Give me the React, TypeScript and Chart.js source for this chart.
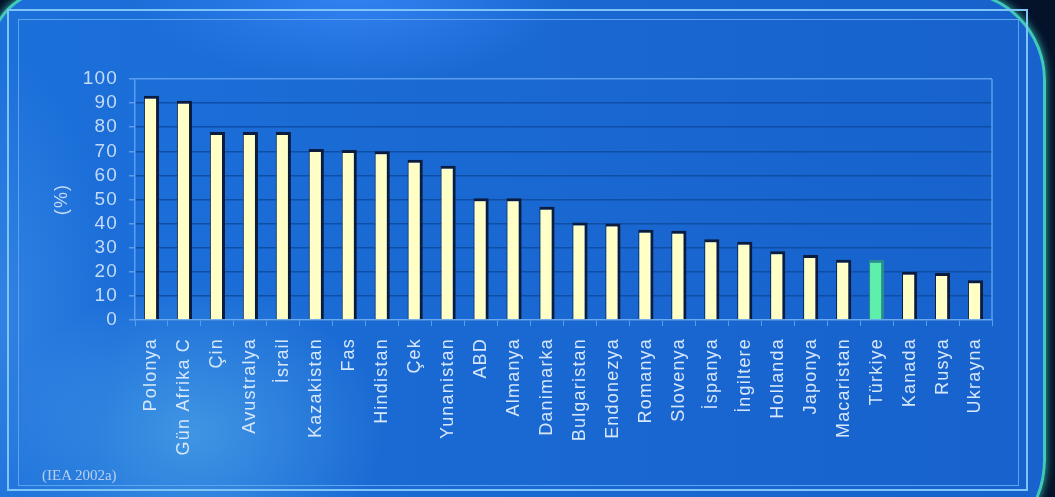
import React, { useEffect, useRef } from "react";
import { Chart, registerables } from "chart.js";

Chart.register(...registerables);

const categories = [
  "Polonya", "Gün Afrika C", "Çin", "Avustralya", "İsrail", "Kazakistan", "Fas",
  "Hindistan", "Çek", "Yunanistan", "ABD", "Almanya", "Danimarka", "Bulgaristan",
  "Endonezya", "Romanya", "Slovenya", "İspanya", "İngiltere", "Hollanda", "Japonya",
  "Macaristan", "Türkiye", "Kanada", "Rusya", "Ukrayna",
];

const shares = [
  93, 91, 78, 78, 78, 71, 70.5, 70, 66.5, 64, 50.5, 50.5, 47, 40.5, 40, 37.5, 37,
  33.5, 32.5, 28.5, 27, 25, 25, 20, 19.5, 16.5,
];

const highlighted = "Türkiye";
const yTitle = "(%)";
const sourceNote = "(IEA 2002a)";

const LIGHT = "#5a9ef0";

const framePlugin = {
  id: "frameLines",
  beforeDraw(chart: any) {
    chart.ctx.letterSpacing = "1.2px";
  },
  beforeDatasetsDraw(chart: any) {
    const { ctx, chartArea } = chart;
    ctx.save();
    ctx.strokeStyle = LIGHT;
    ctx.lineWidth = 1.5;
    ctx.beginPath();
    ctx.moveTo(chartArea.right, chartArea.top);
    ctx.lineTo(chartArea.right, chartArea.bottom);
    ctx.stroke();
    ctx.restore();
  },
};

export default function App() {
  const canvasRef = useRef<HTMLCanvasElement | null>(null);

  useEffect(() => {
    const canvas = canvasRef.current;
    if (!canvas) return;
    const chart = new Chart(canvas, {
      type: "bar",
      data: {
        labels: categories,
        datasets: [
          {
            data: shares,
            backgroundColor: categories.map((c) => (c === highlighted ? "#5ef0aa" : "#ffffc6")),
            borderColor: categories.map((c) => (c === highlighted ? "#2a8c8c" : "#0c1c3c")),
            borderWidth: { top: 3, right: 3, left: 1, bottom: 0 },
            borderSkipped: "bottom",
            barPercentage: 0.46,
            categoryPercentage: 1,
          },
        ],
      },
      options: {
        animation: false,
        responsive: false,
        maintainAspectRatio: false,
        layout: { padding: { left: 47, top: 79, right: 63, bottom: 0 } },
        plugins: { legend: { display: false }, tooltip: { enabled: false } },
        scales: {
          x: {
            afterFit(scale: any) {
              scale.height = 177;
            },
            border: { display: true, color: "#6aaaf4", width: 1.5 },
            grid: {
              display: true,
              drawOnChartArea: false,
              drawTicks: true,
              tickLength: 6,
              tickColor: LIGHT,
              offset: true,
            },
            ticks: {
              autoSkip: false,
              maxRotation: 90,
              minRotation: 90,
              padding: 12,
              color: "#d6e6fb",
              font: { family: "'Liberation Sans', Arial, sans-serif", size: 18 },
            },
          },
          y: {
            min: 0,
            max: 100,
            afterFit(scale: any) {
              scale.width = 88;
            },
            border: { display: true, color: LIGHT, width: 1.5 },
            grid: {
              color: (ctx: any) => (ctx.tick && ctx.tick.value === 100 ? LIGHT : "#0e4ea6"),
              lineWidth: 1.5,
              drawTicks: true,
              tickLength: 6,
              tickColor: LIGHT,
            },
            ticks: {
              stepSize: 10,
              autoSkip: false,
              padding: 11,
              color: "#c4daf6",
              font: { family: "'Liberation Sans', Arial, sans-serif", size: 19 },
            },
            title: {
              display: true,
              text: yTitle,
              color: "#c4daf6",
              font: { family: "'Liberation Sans', Arial, sans-serif", size: 18 },
            },
          },
        },
      },
      plugins: [framePlugin],
    });
    return () => chart.destroy();
  }, []);

  return (
    <div
      style={{
        position: "fixed",
        left: 0,
        top: 0,
        width: 1055,
        height: 497,
        overflow: "hidden",
        background: "#04122a",
      }}
    >
      <div
        style={{
          position: "absolute",
          left: -10,
          top: -10,
          width: 1050,
          height: 564,
          borderRadius: "60px 90px 100px 60px",
          border: "3px solid #40c8b8",
          boxShadow: "0 0 8px #38c0b0",
          background:
            "radial-gradient(ellipse 190px 150px at 200px 440px, rgba(100,190,240,0.5), rgba(100,190,240,0) 100%)," +
            "radial-gradient(ellipse 220px 90px at 360px 0px, rgba(60,140,255,0.7), rgba(60,140,255,0) 100%)," +
            "radial-gradient(ellipse 120px 260px at 0px 320px, rgba(70,150,235,0.5), rgba(70,150,235,0) 100%)," +
            "linear-gradient(90deg, #1c70da 0%, #1a68d2 50%, #1762cc 100%)",
        }}
      />
      <div
        style={{
          position: "absolute",
          left: 7,
          top: 9,
          width: 1021,
          height: 482,
          border: "2px solid #7ec4f6",
          boxSizing: "border-box",
        }}
      />
      <div
        style={{
          position: "absolute",
          left: 18,
          top: 19,
          width: 1001,
          height: 467,
          border: "1px solid #5ca4f0",
          boxSizing: "border-box",
        }}
      />
      <canvas
        ref={canvasRef}
        width={1055}
        height={497}
        style={{ position: "absolute", left: 0, top: 0, width: 1055, height: 497 }}
      />
      <div
        style={{
          position: "absolute",
          left: 42,
          top: 467,
          fontFamily: "'Liberation Serif', 'Times New Roman', serif",
          fontSize: 15,
          color: "#b6d0f2",
          whiteSpace: "nowrap",
        }}
      >
        {sourceNote}
      </div>
    </div>
  );
}
